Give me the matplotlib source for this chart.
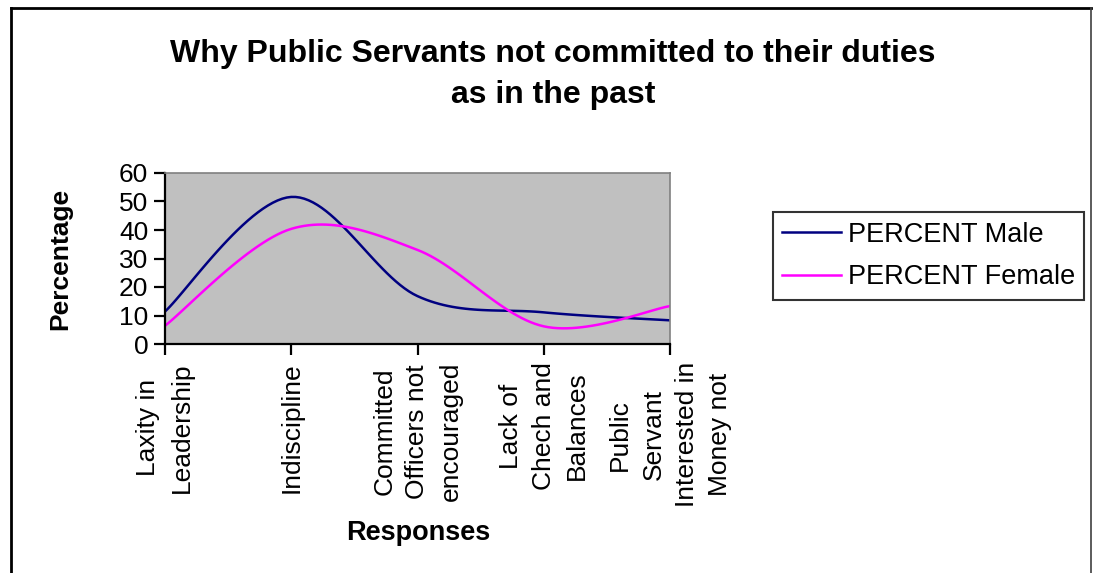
import matplotlib.pyplot as plt
import numpy as np
from matplotlib.lines import Line2D

# Data
responses = ['Laxity in\nLeadership', 'Indiscipline',
             'Committed\nOfficers not\nencouraged',
             'Lack of\nChech and\nBalances',
             'Public\nServant\nInterested in\nMoney not']
male = [11.4, 51.6, 16.8, 11.1, 8.3]
female = [6.4, 40.4, 33.0, 6.2, 13.3]


def smooth(y, n=30):
    # Excel-style smoothed line (Catmull-Rom Bezier segments)
    y = np.asarray(y, dtype=float)
    x = np.arange(len(y), dtype=float)
    px = np.concatenate([[x[0]], x, [x[-1]]])
    py = np.concatenate([[y[0]], y, [y[-1]]])
    xs, ys = [], []
    t = np.linspace(0, 1, n)
    for i in range(len(y) - 1):
        p0x, p0y = px[i + 1], py[i + 1]
        p3x, p3y = px[i + 2], py[i + 2]
        b1x = p0x + (p3x - px[i]) / 6
        b1y = p0y + (p3y - py[i]) / 6
        b2x = p3x - (px[i + 3] - p0x) / 6
        b2y = p3y - (py[i + 3] - p0y) / 6
        xs.append((1-t)**3*p0x + 3*(1-t)**2*t*b1x + 3*(1-t)*t**2*b2x + t**3*p3x)
        ys.append((1-t)**3*p0y + 3*(1-t)**2*t*b1y + 3*(1-t)*t**2*b2y + t**3*p3y)
    return np.concatenate(xs), np.concatenate(ys)


plt.rcParams['font.family'] = ['Liberation Sans', 'DejaVu Sans']

fig = plt.figure(figsize=(10.93, 5.73), dpi=100)
ax = fig.add_axes([165/1093, 1-344/573, 505/1093, 171/573])
ax.set_facecolor('#C0C0C0')

mx, my = smooth(male)
fx, fy = smooth(female)
ax.plot(mx, my, color='#000080', lw=1.8, label='PERCENT Male')
ax.plot(fx, fy, color='#FF00FF', lw=1.8, label='PERCENT Female')

ax.set_xlim(0, len(responses) - 1)
ax.set_ylim(0, 60)
ax.set_yticks(range(0, 61, 10))
ax.set_xticks(range(len(responses)))
ax.set_xticklabels(responses, rotation=90, va='top', ha='center',
                   multialignment='center', linespacing=1.48)
ax.tick_params(axis='both', direction='out', length=8, width=1.6,
               labelsize=19, color='black')
ax.tick_params(axis='x', pad=5)
ax.tick_params(axis='y', pad=4)

for side in ['left', 'bottom']:
    ax.spines[side].set_linewidth(1.6)
    ax.spines[side].set_color('black')
for side in ['top', 'right']:
    ax.spines[side].set_linewidth(1.2)
    ax.spines[side].set_color('#808080')

fig.text(0.506, 1-54/573, 'Why Public Servants not committed to their duties',
         ha='center', va='center', fontsize=23, fontweight='bold')
fig.text(0.506, 1-95/573, 'as in the past',
         ha='center', va='center', fontsize=23, fontweight='bold')
fig.text(60/1093, 1-259/573, 'Percentage', rotation=90, ha='center',
         va='center', fontsize=19, fontweight='bold')
fig.text(418/1093, 1-533/573, 'Responses', ha='center', va='center',
         fontsize=19.5, fontweight='bold')

leg = fig.legend(loc='center left', bbox_to_anchor=(773/1093, 1-256/573),
                 fontsize=19.5, frameon=True, fancybox=False,
                 handlelength=2.15, borderpad=0.35, labelspacing=0.62,
                 handletextpad=0.26, borderaxespad=0)
leg.get_frame().set_edgecolor('black')
leg.get_frame().set_linewidth(1.5)

# Outer chart border (left/top dark, right grey)
fig.add_artist(Line2D([11/1093, 11/1093], [0, 1-8/573], color='black', lw=2,
                      transform=fig.transFigure))
fig.add_artist(Line2D([11/1093, 1091/1093], [1-8/573, 1-8/573], color='black',
                      lw=2, transform=fig.transFigure))
fig.add_artist(Line2D([1091/1093, 1091/1093], [0, 1-8/573], color='#404040',
                      lw=1.2, transform=fig.transFigure))

fig.savefig('out.png', dpi=100)
